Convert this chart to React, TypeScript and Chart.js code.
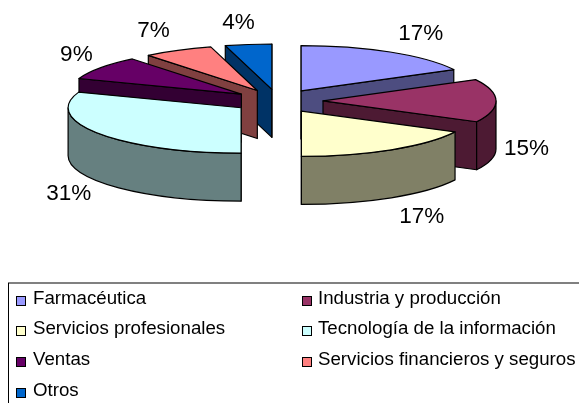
import React, { useEffect, useRef } from "react";
import { Chart, registerables } from "chart.js";

Chart.register(...registerables);

const categories = [
  "Farmacéutica",
  "Industria y producción",
  "Servicios profesionales",
  "Tecnología de la información",
  "Ventas",
  "Servicios financieros y seguros",
  "Otros",
];
const shares = [17.2, 15.4, 17.4, 30.6, 8.55, 6.51, 4.34];
const topColors = ["#9999FF", "#993366", "#FFFFCC", "#CCFFFF", "#660066", "#FF8080", "#0066CC"];
const wallColors = ["#4D4D80", "#4D1A33", "#808066", "#668080", "#330033", "#804040", "#003366"];

const RADIUS = 173;
const SQUASH = 0.262;
const DEPTH = 48;
const EXPLODE = 45;
const LABEL_FONT = "22.5px 'Liberation Sans', Arial, sans-serif";
const LEGEND_FONT = "18.7px 'Liberation Sans', Arial, sans-serif";

const pie3d = {
  id: "pie3d",
  beforeDatasetDraw(chart: any) {
    const ctx: CanvasRenderingContext2D = chart.ctx;
    const arcs: any[] = chart.getDatasetMeta(0).data;
    const items = arcs.map((arc, i) => {
      const mid = (arc.startAngle + arc.endAngle) / 2;
      const ax = arc.x + Math.cos(mid) * EXPLODE;
      const ay = arc.y + Math.sin(mid) * EXPLODE * SQUASH;
      return { arc, i, mid, ax, ay };
    });
    const px = (it: any, a: number) => it.ax + Math.cos(a) * it.arc.outerRadius;
    const py = (it: any, a: number) => it.ay + Math.sin(a) * it.arc.outerRadius * SQUASH;

    const order = [...items].sort((p, q) => Math.sin(p.mid) - Math.sin(q.mid));
    ctx.save();
    ctx.lineWidth = 1.2;
    ctx.strokeStyle = "#000";
    ctx.lineJoin = "round";
    for (const it of order) {
      const { arc, i, ax, ay } = it;
      const s = arc.startAngle;
      const e = arc.endAngle;
      const face = (a: number) => {
        ctx.beginPath();
        ctx.moveTo(ax, ay);
        ctx.lineTo(px(it, a), py(it, a));
        ctx.lineTo(px(it, a), py(it, a) + DEPTH);
        ctx.lineTo(ax, ay + DEPTH);
        ctx.closePath();
        ctx.fillStyle = wallColors[i];
        ctx.fill();
        ctx.stroke();
      };
      if (Math.cos(s) <= 0.001) face(s);
      if (Math.cos(e) >= -0.001) face(e);
      // outer wall: the part of the rim facing the viewer
      const from = Math.max(s, 0);
      const to = Math.min(e, Math.PI);
      const from2 = Math.max(s - 2 * Math.PI, 0);
      const to2 = Math.min(e - 2 * Math.PI, Math.PI);
      const [a0, a1] = to > from ? [from, to] : [from2, to2];
      if (a1 > a0) {
        ctx.beginPath();
        ctx.ellipse(ax, ay, arc.outerRadius, arc.outerRadius * SQUASH, 0, a0, a1);
        ctx.ellipse(ax, ay + DEPTH, arc.outerRadius, arc.outerRadius * SQUASH, 0, a1, a0, true);
        ctx.closePath();
        ctx.fillStyle = wallColors[i];
        ctx.fill();
        ctx.stroke();
      }
      ctx.beginPath();
      ctx.moveTo(ax, ay);
      ctx.ellipse(ax, ay, arc.outerRadius, arc.outerRadius * SQUASH, 0, s, e);
      ctx.closePath();
      ctx.fillStyle = arc.options.backgroundColor;
      ctx.fill();
      ctx.stroke();
    }
    ctx.restore();

    // percentage labels
    const total = shares.reduce((t, v) => t + v, 0);
    ctx.save();
    ctx.font = LABEL_FONT;
    ctx.fillStyle = "#000";
    ctx.textAlign = "center";
    ctx.textBaseline = "middle";
    for (const it of items) {
      const text = Math.round((shares[it.i] / total) * 100) + "%";
      const w = ctx.measureText(text).width;
      const c = Math.cos(it.mid);
      const sn = Math.sin(it.mid);
      const extra = Math.sign(c) * (w / 2 + 8) * Math.min(1, Math.abs(c) * 3);
      const x = it.ax + c * it.arc.outerRadius + extra;
      const y = it.ay + sn * 67 + (sn > -0.1 ? DEPTH : 0);
      ctx.fillText(text, x, y);
    }
    ctx.restore();
    return false;
  },
  afterDraw(chart: any) {
    const ctx: CanvasRenderingContext2D = chart.ctx;
    ctx.save();
    // legend frame, cut off by the picture's bottom and right edges
    ctx.fillStyle = "#808080";
    ctx.fillRect(8, 282, 571, 2);
    ctx.fillStyle = "#000";
    ctx.fillRect(8, 283, 1, 120);
    ctx.font = LEGEND_FONT;
    ctx.textBaseline = "middle";
    ctx.textAlign = "left";
    categories.forEach((name, i) => {
      const col = i % 2;
      const row = Math.floor(i / 2);
      const x = col === 0 ? 16 : 302;
      const y = 300 + row * 30.7;
      ctx.fillStyle = topColors[i];
      ctx.fillRect(x + 0.5, Math.round(y - 4.5) + 0.5, 9, 9);
      ctx.strokeStyle = "#000";
      ctx.lineWidth = 1;
      ctx.strokeRect(x + 0.5, Math.round(y - 4.5) + 0.5, 9, 9);
      ctx.fillStyle = "#000";
      ctx.fillText(name, x + (col === 0 ? 17 : 16), y - 1.5);
    });
    ctx.restore();
  },
};

export default function App() {
  const ref = useRef<HTMLCanvasElement>(null);
  useEffect(() => {
    document.body.style.margin = "0";
    const chart = new Chart(ref.current!, {
      type: "pie",
      data: {
        labels: categories,
        datasets: [{ data: shares, backgroundColor: topColors, borderWidth: 0 }],
      },
      options: {
        animation: false,
        responsive: false,
        devicePixelRatio: 1,
        radius: RADIUS,
        layout: { padding: { top: 0, left: 0, right: 23, bottom: 201 } },
        plugins: { legend: { display: false }, tooltip: { enabled: false } },
      } as any,
      plugins: [pie3d],
    });
    return () => chart.destroy();
  }, []);
  return <canvas ref={ref} width={579} height={403} style={{ display: "block" }} />;
}
